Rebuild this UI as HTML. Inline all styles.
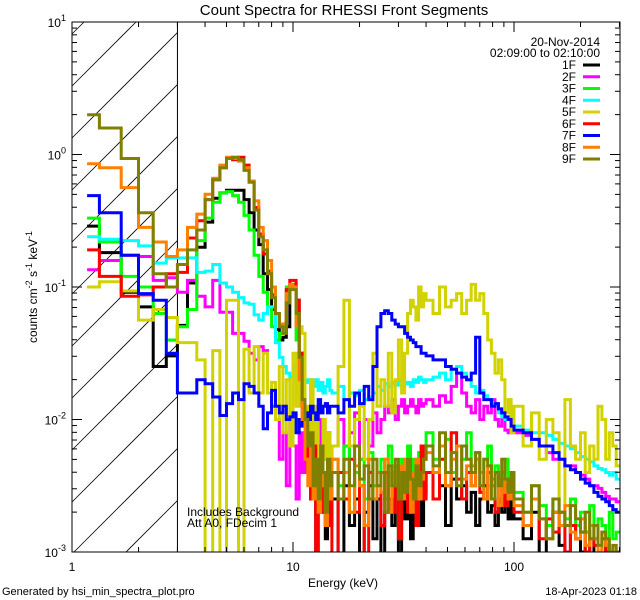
<!DOCTYPE html>
<html><head><meta charset="utf-8"><style>
html,body{margin:0;padding:0;background:#fff;width:640px;height:600px;overflow:hidden;}
svg{display:block;font-family:"Liberation Sans",sans-serif;}
</style></head><body>
<svg id="chart" width="640" height="600" viewBox="0 0 640 600" xmlns="http://www.w3.org/2000/svg">
<rect x="0" y="0" width="640" height="600" fill="#fff"/>
<text x="344" y="15" font-size="15" text-anchor="middle">Count Spectra for RHESSI Front Segments</text>
<g id="hatch"></g>
<g id="series"></g>
<g id="axes"></g>
<text transform="translate(37,287) rotate(-90)" font-size="12" text-anchor="middle">counts cm<tspan dy="-5" font-size="9">-2</tspan><tspan dy="5"> s</tspan><tspan dy="-5" font-size="9">-1</tspan><tspan dy="5"> keV</tspan><tspan dy="-5" font-size="9">-1</tspan></text>
<text x="343" y="587" font-size="12" text-anchor="middle">Energy (keV)</text>
<text x="600" y="46" font-size="12" text-anchor="end">20-Nov-2014</text>
<text x="600" y="57" font-size="12" text-anchor="end">02:09:00 to 02:10:00</text>
<g id="legend"></g>
<text x="187" y="516" font-size="12">Includes Background</text>
<text x="187" y="527" font-size="12">Att A0, FDecim 1</text>
<text x="2" y="595" font-size="11">Generated by hsi_min_spectra_plot.pro</text>
<text x="637" y="595" font-size="11" text-anchor="end">18-Apr-2023 01:18</text>
</svg>
<script>
// Energy bin edges (keV)
const binEdges = [1.17,1.33,1.67,2,2.33,2.67,3,3.33,3.67,4,4.33,4.67,5,5.33,5.67,6,6.33,6.67,7,7.33,7.67,8,8.33,8.67,9,9.33,9.67,10,10.33,10.67,11,11.33,11.67,12,12.33,12.67,13,13.33,13.67,14,14.33,14.67,15,
16,17,18,19,20,21,22,23,24,25,26,27,28,29,30,31,32,33,34,35,36,37,38,39,40,
43,46,49,52,55,58,61,64,67,70,73,76,79,82,85,88,91,94,97,100,
110,120,130,140,150,160,170,180,190,200,210,220,230,240,250,260,270,280,290,300];
const seriesNames = ["1F","2F","3F","4F","5F","6F","7F","8F","9F"];
const seriesColors = ["#000000","#ff00ff","#00ff00","#00ffff","#d2d200","#ff0000","#0000ff","#ff8000","#808000"];
// log10(counts cm^-2 s^-1 keV^-1) per bin
const log1F = [-.54,-.74,-1.04,-1.15,-1.6,-1.52,-1.29,-0.97,-0.7,-0.51,-0.33,-0.29,-0.27,-0.27,-0.27,-0.34,-0.44,-0.57,-0.68,-0.9,-1.02,-1.17,-1.32,-1.4,-1.38,-1.3,-1.0,-0.98,-1.1,-1.5,-1.9,-2.1,-2.3,-2.6,-2.4,-3.2,-2.5,-2.7,-2.4,-2.9,-2.6,-2.8,
-2.6,-3.2,-2.5,-2.8,-2.6,-3.2,-2.7,-2.5,-2.9,-2.6,-3.2,-2.7,-2.6,-2.8,-2.5,-3.2,-2.6,-2.75,-2.55,-2.9,-2.5,-2.7,-2.6,-2.8,-2.55,
-2.4,-2.6,-2.5,-2.8,-2.45,-2.6,-2.5,-2.7,-2.55,-2.8,-2.6,-2.5,-2.7,-2.65,-2.8,-2.6,-2.7,-2.5,-2.75,-2.6,
-2.75,-2.9,-2.7,-3.2,-2.8,-2.7,-2.95,-3.2,-2.8,-2.9,-3.0,-2.85,-3.2,-2.9,-3.0,-3.1,-2.95,-3.2,-3.05,-3.1];
const log2F = [-.87,-.8,-.76,-.77,-.95,-.93,-1.04,-0.95,-1.07,-1.15,-0.95,-1.19,-1.19,-1.35,-1.35,-1.41,-1.5,-1.55,-1.45,-1.48,-1.8,-1.9,-2.0,-2.3,-2.1,-2.5,-2.0,-2.2,-2.6,-2.1,-2.4,-2.3,-2.0,-2.5,-2.2,-2.1,-2.4,-2.0,-2.3,-2.2,-2.1,-2.3,
-2.2,-2.0,-2.4,-2.1,-1.95,-2.3,-2.0,-2.2,-1.95,-2.1,-2.0,-1.9,-1.95,-1.85,-2.0,-1.9,-1.85,-1.95,-1.9,-1.85,-1.9,-1.95,-1.85,-1.9,-1.88,
-1.85,-1.9,-1.82,-1.87,-1.75,-1.65,-1.8,-1.9,-1.95,-1.85,-2.0,-1.9,-1.95,-1.85,-2.0,-2.05,-2.0,-2.08,-2.1,-2.05,
-2.1,-2.12,-2.15,-2.2,-2.25,-2.3,-2.3,-2.35,-2.35,-2.4,-2.42,-2.45,-2.5,-2.5,-2.52,-2.55,-2.58,-2.6,-2.6,-2.62];
const log3F = [-.48,-.66,-.92,-1.0,-1.2,-1.4,-1.3,-1.17,-.65,-.48,-.36,-.29,-.28,-.31,-.36,-.46,-.57,-.76,-.92,-1.04,-1.15,-1.3,-1.4,-1.35,-1.3,-1.0,-.98,-1.0,-1.4,-1.8,-2.0,-2.2,-2.4,-2.1,-2.6,-2.3,-2.5,-2.2,-2.7,-2.4,-2.3,-2.5,
-2.3,-2.5,-2.2,-2.7,-2.4,-2.3,-2.6,-2.25,-2.5,-2.4,-2.3,-2.6,-2.2,-2.5,-2.35,-2.9,-2.3,-2.45,-2.2,-2.4,-2.3,-2.5,-2.25,-2.4,-2.3,
-2.1,-2.3,-2.2,-2.15,-2.4,-2.2,-2.3,-2.1,-2.35,-2.25,-2.4,-2.3,-2.2,-2.45,-2.35,-2.5,-2.4,-2.3,-2.55,-2.45,
-2.55,-2.7,-2.5,-2.65,-2.8,-2.6,-2.7,-2.75,-2.6,-2.8,-2.7,-2.85,-2.65,-2.9,-2.75,-2.8,-2.95,-2.7,-2.9,-2.85];
const log4F = [-.62,-.64,-.65,-.69,-.82,-.78,-.78,-.78,-.89,-.88,-.83,-.97,-1.0,-1.04,-1.08,-1.12,-1.13,-1.21,-1.25,-1.2,-1.15,-1.15,-1.42,-1.53,-1.6,-1.65,-1.68,-1.6,-1.7,-1.63,-1.62,-1.7,-1.72,-1.7,-1.75,-1.7,-1.78,-1.72,-1.8,-1.75,-1.7,-1.78,
-1.8,-1.75,-1.85,-1.8,-1.82,-1.78,-1.85,-1.83,-1.8,-1.75,-1.78,-1.73,-1.75,-1.72,-1.74,-1.7,-1.75,-1.73,-1.72,-1.75,-1.7,-1.72,-1.68,-1.7,-1.72,
-1.7,-1.68,-1.65,-1.7,-1.62,-1.6,-1.65,-1.7,-1.75,-1.8,-1.78,-1.82,-1.85,-1.9,-1.88,-1.95,-1.98,-2.0,-2.0,-2.03,
-2.05,-2.08,-2.1,-2.1,-2.12,-2.15,-2.18,-2.2,-2.22,-2.25,-2.28,-2.3,-2.32,-2.35,-2.37,-2.38,-2.4,-2.42,-2.4,-2.45];
const log5F = [-1.0,-0.96,-1.03,-1.25,-1.17,-1.23,-1.42,-1.42,-1.55,-3.2,-1.48,-3.2,-1.1,-1.1,-3.2,-1.47,-1.8,-1.45,-1.8,-1.5,-1.8,-1.72,-2.0,-1.6,-2.1,-1.7,-2.2,-1.5,-1.9,-1.3,-1.35,-1.9,-2.2,-1.7,-2.4,-1.9,-2.5,-2.2,-2.0,-2.3,-2.1,-2.4,
-2.2,-1.6,-1.1,-2.2,-2.0,-1.9,-2.3,-2.0,-1.5,-1.9,-1.7,-1.9,-1.5,-1.95,-1.7,-1.4,-1.8,-1.5,-1.2,-1.1,-1.15,-1.25,-1.0,-1.15,-1.05,
-1.1,-1.2,-1.0,-1.15,-1.1,-1.05,-1.2,-1.1,-0.98,-1.1,-1.05,-1.2,-1.4,-1.5,-1.65,-1.55,-1.7,-1.95,-1.85,-2.1,
-1.9,-2.2,-1.95,-2.3,-2.0,-2.1,-2.8,-1.85,-2.2,-2.3,-2.1,-2.4,-2.2,-2.3,-1.9,-2.0,-2.3,-2.1,-2.2,-2.35];
const log6F = [-.72,-.92,-1.07,-1.06,-1.0,-0.9,-0.89,-0.63,-0.5,-0.34,-0.19,-0.1,-0.03,-0.04,-0.02,-0.08,-0.2,-0.4,-0.6,-0.75,-0.88,-1.06,-1.2,-1.3,-1.28,-1.02,-0.95,-0.95,-1.1,-1.5,-1.9,-2.1,-2.4,-2.6,-2.2,-3.2,-2.5,-2.3,-2.7,-2.4,-2.8,-2.5,
-3.2,-2.4,-2.6,-2.3,-2.7,-2.5,-3.2,-2.4,-2.6,-2.5,-2.8,-2.4,-2.6,-2.7,-2.5,-2.9,-2.6,-2.4,-2.7,-2.5,-2.6,-2.8,-2.5,-2.2,-2.6,
-2.4,-2.6,-2.3,-2.5,-2.1,-2.45,-2.6,-2.4,-2.5,-2.3,-2.55,-2.6,-2.4,-2.5,-2.7,-2.6,-2.45,-2.65,-2.6,-2.5,
-2.7,-2.8,-2.6,-2.9,-2.75,-2.85,-2.7,-3.0,-2.8,-2.9,-2.85,-3.0,-2.9,-2.95,-3.2,-2.9,-3.0,-3.05,-3.1,-3.0];
const log7F = [-.31,-.44,-.76,-1.05,-1.1,-1.5,-1.8,-1.8,-1.7,-1.73,-1.83,-1.97,-1.88,-1.8,-1.85,-1.73,-1.75,-1.8,-1.9,-2.07,-1.95,-1.78,-1.9,-1.95,-1.9,-2.0,-1.98,-1.95,-2.1,-2.0,-2.05,-1.95,-2.0,-1.9,-1.95,-2.0,-1.85,-1.95,-1.9,-1.88,-1.95,-1.9,
-1.9,-1.95,-1.85,-1.9,-1.8,-1.88,-1.75,-1.85,-1.6,-1.3,-1.2,-1.18,-1.2,-1.25,-1.28,-1.3,-1.3,-1.35,-1.38,-1.4,-1.42,-1.45,-1.45,-1.5,-1.5,
-1.52,-1.55,-1.55,-1.6,-1.62,-1.65,-1.68,-1.7,-1.65,-1.38,-1.8,-1.85,-1.85,-1.9,-1.88,-1.92,-1.95,-1.98,-2.0,-2.05,
-2.08,-2.1,-2.15,-2.2,-2.2,-2.25,-2.3,-2.35,-2.38,-2.4,-2.45,-2.48,-2.5,-2.55,-2.58,-2.6,-2.62,-2.65,-2.68,-2.7];
const log8F = [-.07,-.1,-.25,-.55,-.66,-.77,-0.72,-0.55,-0.45,-0.3,-0.18,-0.08,-0.02,-0.03,-0.05,-0.1,-0.2,-0.35,-0.55,-0.65,-0.8,-1.0,-1.2,-1.28,-1.28,-1.05,-0.98,-1.0,-1.3,-1.7,-2.0,-2.3,-2.5,-2.2,-2.6,-2.4,-2.7,-2.3,-2.5,-2.8,-2.4,-2.6,
-2.3,-2.6,-2.4,-2.7,-2.35,-2.5,-2.8,-2.3,-2.6,-2.4,-2.55,-2.3,-2.7,-2.4,-2.5,-2.35,-2.6,-2.3,-2.45,-2.7,-2.4,-2.3,-2.6,-2.45,-2.3,
-2.25,-2.4,-2.2,-2.5,-2.3,-2.2,-2.45,-2.35,-2.5,-2.3,-2.4,-2.6,-2.35,-2.5,-2.4,-2.65,-2.45,-2.55,-2.6,-2.5,
-2.65,-2.8,-2.6,-2.75,-2.9,-2.7,-2.8,-2.65,-2.85,-2.9,-2.75,-2.95,-2.8,-2.9,-3.0,-2.85,-2.95,-3.05,-3.0,-3.1];
const log9F = [.30,.20,-.03,-.44,-.90,-1.0,-.83,-.72,-.57,-.34,-.19,-.10,-.03,-.02,-.04,-.12,-.21,-.42,-.62,-.72,-.90,-1.08,-1.2,-1.3,-1.35,-1.12,-1.02,-1.02,-1.2,-1.53,-1.85,-2.0,-2.2,-2.1,-2.5,-2.3,-2.6,-2.2,-2.4,-2.7,-2.3,-2.5,
-2.4,-2.6,-2.3,-2.5,-2.2,-2.45,-2.35,-2.6,-2.3,-2.5,-2.4,-2.7,-2.35,-2.5,-2.3,-2.6,-2.4,-2.55,-2.3,-2.45,-2.6,-2.35,-2.5,-2.4,-2.3,
-2.2,-2.35,-2.1,-2.4,-2.25,-2.5,-2.2,-2.3,-2.4,-2.25,-2.5,-2.3,-2.35,-2.6,-2.4,-2.5,-2.3,-2.45,-2.55,-2.4,
-2.6,-2.7,-2.5,-2.75,-2.9,-2.6,-2.7,-2.8,-2.65,-2.75,-2.85,-2.7,-2.9,-2.8,-2.95,-2.85,-2.9,-3.0,-2.95,-3.0];
const seriesData = [log1F,log2F,log3F,log4F,log5F,log6F,log7F,log8F,log9F];
const xTickMajor = [1,10,100];
const xTickLabels = ["1","10","100"];
const yTickMajor = [1,0,-1,-2,-3];

const NS = "http://www.w3.org/2000/svg";
const L = 72, R = 620, T = 22, B = 552;
const xDec = 221, yDec = (B - T) / 4;
function xs(e){ return L + Math.log10(e) * xDec; }
function ys(lv){ return T + (1 - lv) * yDec; }
function mk(tag, attrs, parent){ const el = document.createElementNS(NS, tag); for (const k in attrs) el.setAttribute(k, attrs[k]); parent.appendChild(el); return el; }

const svg = document.getElementById("chart");
const defs = mk("defs", {}, svg);
const cp = mk("clipPath", {id:"plotclip"}, defs);
mk("rect", {x:L, y:T, width:R-L, height:B-T}, cp);

// hatch region (below 3 keV), lines clipped analytically to the box
const hatch = document.getElementById("hatch");
const hx = xs(3);
for (let c = T + 64 - 52*2; c < B + (hx - L); c += 52) {
  // line: y = c - (x - L)
  let x1 = L, y1 = c;
  if (y1 > B) { x1 = L + (y1 - B); y1 = B; }
  let x2 = hx, y2 = c - (hx - L);
  if (y2 < T) { x2 = L + (c - T); y2 = T; }
  if (x1 >= x2) continue;
  const ln = mk("line", {x1:x1, y1:y1, x2:x2, y2:y2, stroke:"#000", "stroke-width":0.8}, hatch);
  
  
}
const vline = mk("line", {x1:hx, y1:T, x2:hx, y2:B, stroke:"#000", "stroke-width":1}, hatch);



// series
const sg = document.getElementById("series");
sg.setAttribute("clip-path", "url(#plotclip)");
seriesData.forEach((vals, s) => {
  let d = "";
  for (let i = 0; i < vals.length; i++) {
    const x0 = xs(binEdges[i]), x1 = xs(binEdges[i+1]);
    const y = Math.min(ys(vals[i]), B + 2);
    d += (i === 0 ? "M" : "L") + x0.toFixed(1) + "," + y.toFixed(1) + "L" + x1.toFixed(1) + "," + y.toFixed(1);
  }
  const p = mk("path", {d:d, fill:"none", stroke:seriesColors[s], "stroke-width":3, "stroke-linejoin":"miter"}, sg);
  
  
});

// axes
const ax = document.getElementById("axes");
const frame = mk("rect", {x:L, y:T, width:R-L, height:B-T, fill:"none", stroke:"#000", "stroke-width":1}, ax);


for (let dec = 0; dec < 3; dec++) {
  for (let m = 1; m <= 9; m++) {
    const e = Math.pow(10, dec) * m;
    const x = xs(e);
    if (x > R) continue;
    const len = m === 1 ? 10 : 5;
    const t1 = mk("line", {x1:x, y1:B, x2:x, y2:B-len, stroke:"#000"}, ax);
    
    
    const t2 = mk("line", {x1:x, y1:T, x2:x, y2:T+len, stroke:"#000"}, ax);
    
    
  }
}
xTickMajor.forEach((v, i) => {
  const t = mk("text", {x:xs(v), y:571, "font-size":12, "text-anchor":"middle"}, ax);
  t.textContent = xTickLabels[i];
  
  
});
yTickMajor.forEach((lv) => {
  const y = ys(lv);
  const a = mk("line", {x1:L, y1:y, x2:L+10, y2:y, stroke:"#000"}, ax);
  
  
  const b = mk("line", {x1:R, y1:y, x2:R-10, y2:y, stroke:"#000"}, ax);
  
  
  const t = mk("text", {x:66, y:y+5, "font-size":12, "text-anchor":"end"}, ax);
  
  
  const base = document.createElementNS(NS, "tspan"); base.textContent = "10"; t.appendChild(base);
  const sup = document.createElementNS(NS, "tspan"); sup.setAttribute("dy", "-6"); sup.setAttribute("font-size", "9"); sup.textContent = String(lv); t.appendChild(sup);
  if (lv > -3) {
    for (let m = 2; m <= 9; m++) {
      const ym = ys(lv - 1 + Math.log10(m));
      const c = mk("line", {x1:L, y1:ym, x2:L+5, y2:ym, stroke:"#000"}, ax);
      
      
      const d2 = mk("line", {x1:R, y1:ym, x2:R-5, y2:ym, stroke:"#000"}, ax);
      
      
    }
  }
});

// legend
const lg = document.getElementById("legend");
seriesNames.forEach((n, i) => {
  const y = 65 + i * 11.75;
  const t = mk("text", {x:576, y:y+4, "font-size":12, "text-anchor":"end"}, lg);
  t.textContent = n;
  
  
  const l = mk("line", {x1:583, y1:y, x2:600, y2:y, stroke:seriesColors[i], "stroke-width":3}, lg);
  
  
});
</script>
</body></html>
